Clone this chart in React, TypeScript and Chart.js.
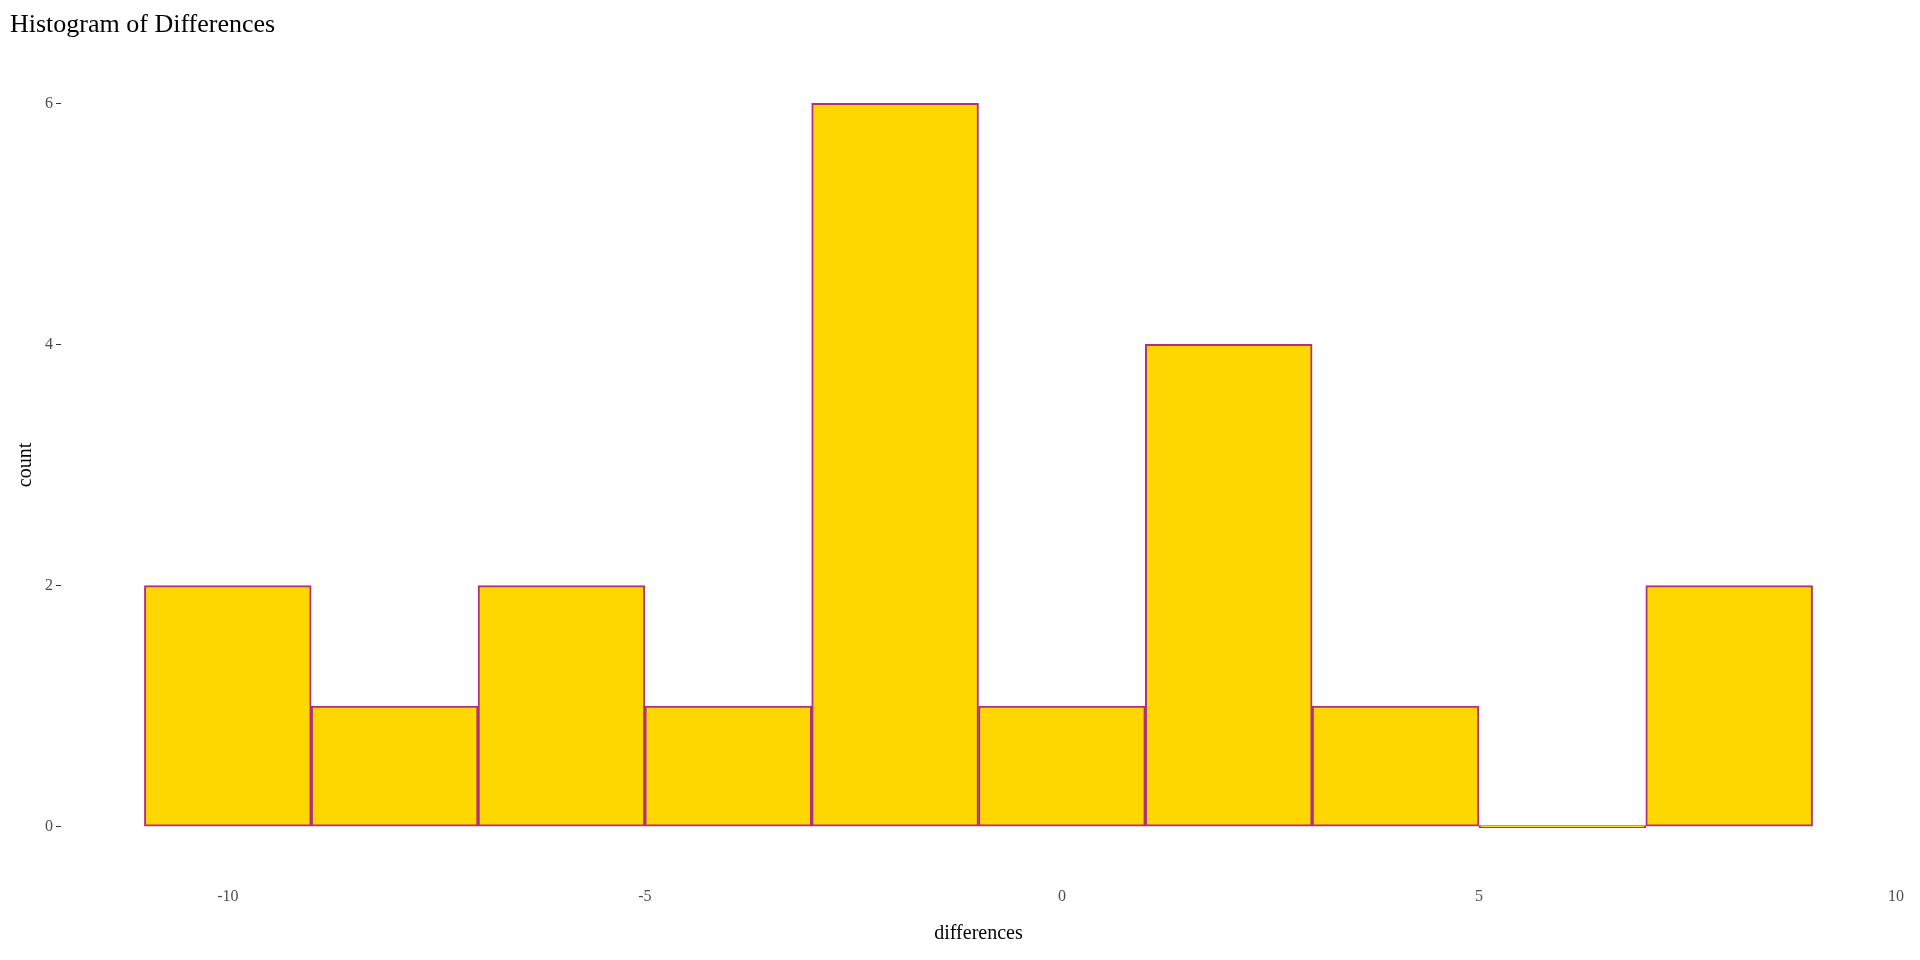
import React, { useRef, useEffect } from 'react';
import { Chart, registerables } from 'chart.js';

Chart.register(...registerables);

// bin edges are every 2 units from -11 to 9
const binCentres = [-10, -8, -6, -4, -2, 0, 2, 4, 6, 8];
const counts = [2, 1, 2, 1, 6, 1, 4, 1, 0, 2];
const xTicks = [-10, -5, 0, 5, 10];
const yTicks = [0, 2, 4, 6];

const font = { family: 'Liberation Serif', size: 16 };

const App: React.FC = () => {
  const chartRef = useRef<HTMLCanvasElement>(null);
  const chartInstance = useRef<Chart | null>(null);

  useEffect(() => {
    if (!chartRef.current) return;
    chartInstance.current?.destroy();
    chartInstance.current = new Chart(chartRef.current, {
      type: 'bar',
      data: {
        datasets: [{
          data: binCentres.map((x, i) => ({ x, y: counts[i] })),
          backgroundColor: '#FFD700',
          borderColor: '#B03080',
          borderWidth: 2,
          borderSkipped: false,
          barPercentage: 1,
          categoryPercentage: 1,
          minBarLength: 2,
        }],
      },
      options: {
        animation: false,
        responsive: true,
        maintainAspectRatio: false,
        layout: { padding: { left: 10, right: 18, top: 10, bottom: 14 } },
        plugins: {
          legend: { display: false },
          tooltip: { enabled: false },
          title: {
            display: true,
            text: 'Histogram of Differences',
            align: 'start',
            color: '#000',
            font: { family: 'Liberation Serif', size: 26, weight: 'normal' },
            padding: { top: 0, bottom: 26 },
          },
        },
        scales: {
          x: {
            type: 'linear',
            offset: false,
            min: -12,
            max: 10,
            afterBuildTicks: (axis) => { axis.ticks = xTicks.map((v) => ({ value: v })); },
            grid: { display: false },
            border: { display: false },
            ticks: { color: '#4d4d4d', font, maxRotation: 0, padding: 16 },
            title: { display: true, text: 'differences', color: '#000', font: { family: 'Liberation Serif', size: 20 }, padding: 0 },
          },
          y: {
            min: -0.3,
            max: 6.3,
            afterBuildTicks: (axis) => { axis.ticks = yTicks.map((v) => ({ value: v })); },
            grid: { drawOnChartArea: false, drawTicks: true, tickLength: 5, color: '#333' },
            border: { display: false },
            ticks: { color: '#4d4d4d', font },
            title: { display: true, text: 'count', color: '#000', font: { family: 'Liberation Serif', size: 20 }, padding: 4 },
          },
        },
      },
    });
    return () => { chartInstance.current?.destroy(); chartInstance.current = null; };
  }, []);

  return (
    <div style={{ position: 'absolute', left: 0, top: 0, width: 1920, height: 960, background: '#fff' }}>
      <canvas ref={chartRef} />
    </div>
  );
};

export default App;
